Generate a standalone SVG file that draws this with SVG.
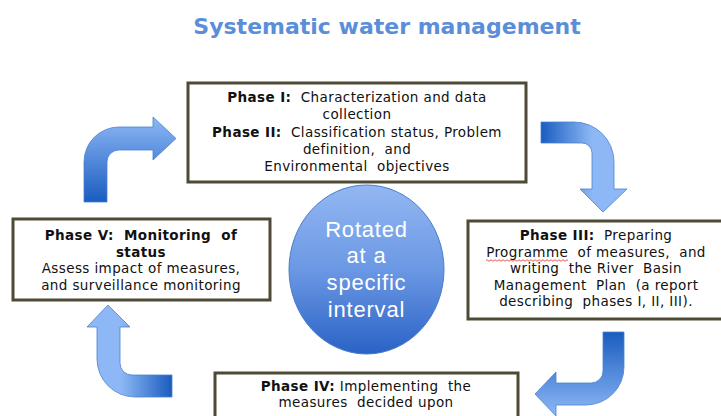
<svg xmlns="http://www.w3.org/2000/svg" width="721" height="416" viewBox="0 0 721 416">
<style>
.box{fill:#ffffff;stroke:#4f4a35;stroke-width:3}
.t{font-family:"DejaVu Sans",Verdana,sans-serif;font-size:13.5px;letter-spacing:0.4px;fill:#111;text-anchor:middle;white-space:pre}
.b{font-weight:bold}
.arrow{stroke:#4a80d0;stroke-width:0.8}
.ct{font-family:"Liberation Sans",Arial,sans-serif;font-size:22px;letter-spacing:0.8px;fill:#ffffff;text-anchor:middle}
</style>
<defs>
<linearGradient id="gUp" x1="0" y1="1" x2="0" y2="0"><stop offset="0" stop-color="#1a5cc0"/><stop offset="1" stop-color="#8db8f5"/></linearGradient>
<linearGradient id="gRight" x1="0" y1="0" x2="1" y2="0"><stop offset="0" stop-color="#1a5cc0"/><stop offset="0.6" stop-color="#8db8f5"/><stop offset="1" stop-color="#8db8f5"/></linearGradient>
<linearGradient id="gLeft" x1="1" y1="0" x2="0" y2="0"><stop offset="0" stop-color="#1a5cc0"/><stop offset="0.6" stop-color="#8db8f5"/><stop offset="1" stop-color="#8db8f5"/></linearGradient>
<linearGradient id="gDown" x1="0" y1="0" x2="0" y2="1"><stop offset="0" stop-color="#1a5cc0"/><stop offset="1" stop-color="#8db8f5"/></linearGradient>
<linearGradient id="gCircle" x1="0" y1="0" x2="0" y2="1"><stop offset="0" stop-color="#93b7f2"/><stop offset="0.5" stop-color="#6b98e4"/><stop offset="1" stop-color="#2a62c5"/></linearGradient>
</defs>

<text x="387" y="34" font-family="'DejaVu Sans',Verdana,sans-serif" font-size="22" font-weight="bold" fill="#5b8ed8" text-anchor="middle">Systematic water management</text>

<g id="connectors">
<path class="arrow" fill="url(#gUp)" d="M84,202 L84,162 A35,35 0 0 1 119,127 L153,127 L153,117 L176,138.5 L153,160 L153,150 L119,150 A12,12 0 0 0 107,162 L107,202 Z"/>
<path class="arrow" fill="url(#gRight)" d="M541,122 L574,122 A40,40 0 0 1 614,162 L614,189 L627,189 L603,212 L580,189 L592,189 L592,153 A10,10 0 0 0 582,143 L541,143 Z"/>
<path class="arrow" fill="url(#gLeft)" d="M108,305 L130,327 L120,327 L120,363 A12,12 0 0 0 132,375 L172,375 L172,397 L135,397 A38,38 0 0 1 97,359 L97,327 L87,327 Z"/>
<path class="arrow" fill="url(#gDown)" d="M603,332 L624,332 L624,367 A38,38 0 0 1 586,405 L556,405 L556,416 L535,394 L556,372 L556,383 L591,383 A12,12 0 0 0 603,371 Z"/>
</g>

<g id="phase12">
<rect class="box" x="188" y="83" width="338" height="99"/>
<text class="t" x="357" y="102"><tspan class="b">Phase I:</tspan>  Characterization and data</text>
<text class="t" x="357" y="119">collection</text>
<text class="t" x="357" y="137"><tspan class="b">Phase II:</tspan>  Classification status, Problem</text>
<text class="t" x="357" y="154">definition,  and</text>
<text class="t" x="357" y="171">Environmental  objectives</text>
</g>

<g id="phase3">
<rect class="box" x="468" y="221" width="258" height="98"/>
<text class="t" x="596" y="240"><tspan class="b">Phase III:</tspan>  Preparing</text>
<text class="t" x="596" y="257">Programme  of measures,  and</text>
<path d="M486,260.5 q1,-1.5 2,0 t2,0 t2,0 t2,0 t2,0 t2,0 t2,0 t2,0 t2,0 t2,0 t2,0 t2,0 t2,0 t2,0 t2,0 t2,0 t2,0 t2,0 t2,0 t2,0 t2,0 t2,0 t2,0 t2,0 t2,0 t2,0 t2,0 t2,0 t2,0 t2,0 t2,0 t2,0 t2,0 t2,0 t2,0 t2,0 t2,0 t2,0 t2,0 t2,0 t2,0" fill="none" stroke="#e03030" stroke-width="0.8"/>
<text class="t" x="596" y="273">writing  the River  Basin</text>
<text class="t" x="596" y="290">Management  Plan  (a report</text>
<text class="t" x="596" y="306">describing  phases I, II, III).</text>
</g>

<g id="phase4">
<rect class="box" x="215" y="373" width="303" height="50"/>
<text class="t" x="366" y="391"><tspan class="b">Phase IV:</tspan> Implementing  the</text>
<text class="t" x="366" y="407">measures  decided upon</text>
</g>

<g id="phase5">
<rect class="box" x="13" y="219" width="257" height="81"/>
<text class="t b" x="141" y="240">Phase V:  Monitoring  of</text>
<text class="t b" x="141" y="257">status</text>
<text class="t" x="141" y="273">Assess impact of measures,</text>
<text class="t" x="141" y="290">and surveillance monitoring</text>
</g>

<g id="center">
<ellipse cx="366.5" cy="269.5" rx="77.5" ry="84.5" fill="url(#gCircle)" stroke="#4a7ccc" stroke-width="1"/>
<text class="ct" x="366.5" y="237">Rotated</text>
<text class="ct" x="366.5" y="263">at a</text>
<text class="ct" x="366.5" y="290">specific</text>
<text class="ct" x="366.5" y="317">interval</text>
</g>
</svg>
